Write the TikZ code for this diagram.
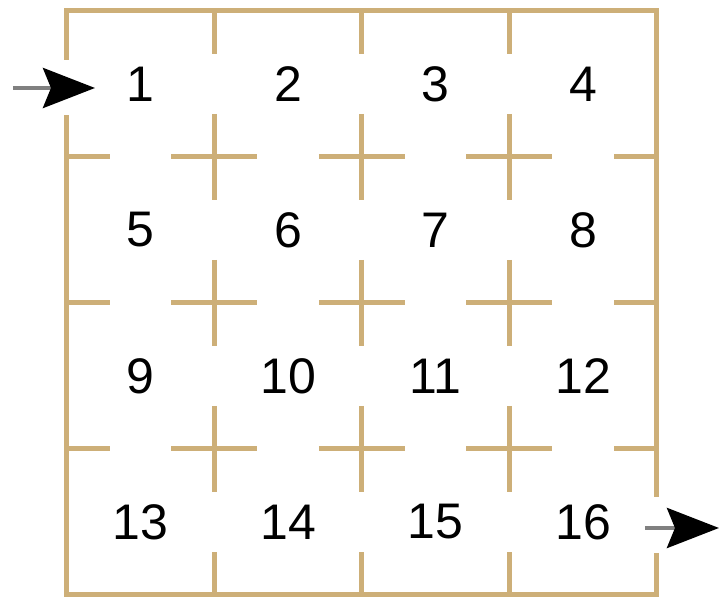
\documentclass[tikz,border=0pt]{standalone}
\usepackage{fontspec}
\setmainfont{Liberation Sans}
\usetikzlibrary{arrows.meta}
\definecolor{wallcol}{RGB}{205,175,120}

\begin{document}
\begin{tikzpicture}[
  x=0.5pt, y=-0.5pt,
  wall/.style={draw=wallcol, line width=2.5pt},
  num/.style={font=\fontsize{25}{25}\selectfont, inner sep=0pt},
  pointer/.style={draw=gray, line width=2.2pt,
    -{Stealth[length=26pt,width=20pt,inset=4pt,color=black]}}
]
  \useasboundingbox (0,0) rectangle (720,597);

  % outer wall, open at the entrance and the exit
  \draw[wall] (67,60) -- (67,11) -- (657,11) -- (657,497);
  \draw[wall] (657,553) -- (657,595) -- (67,595) -- (67,115);

  % inner crosses
  \foreach \x in {214.5,362,509.5}
    \foreach \y in {157,303,449}
      \draw[wall] (\x-43,\y) -- (\x+43,\y) (\x,\y-43) -- (\x,\y+43);

  % stubs on the outer wall
  \foreach \x in {214.5,362,509.5}{
    \draw[wall] (\x,11) -- (\x,54);
    \draw[wall] (\x,595) -- (\x,552);
  }
  \foreach \y in {157,303,449}{
    \draw[wall] (67,\y) -- (110,\y);
    \draw[wall] (657,\y) -- (614,\y);
  }

  % cell numbers
  \foreach \r in {0,...,3}
    \foreach \c in {0,...,3}{
      \pgfmathtruncatemacro{\n}{4*\r+\c+1}
      \node[num] (c\n) at ({67+147.5*(\c+0.5)},{11+146*(\r+0.5)}) {\n};
    }

  % entrance and exit
  \coordinate (inTail) at (13,88);
  \coordinate (inTip) at (95,88);
  \coordinate (outTail) at (645,528);
  \coordinate (outTip) at (719,528);
  \draw[pointer] (inTail) -- (inTip);
  \draw[pointer] (outTail) -- (outTip);
\end{tikzpicture}
\end{document}
